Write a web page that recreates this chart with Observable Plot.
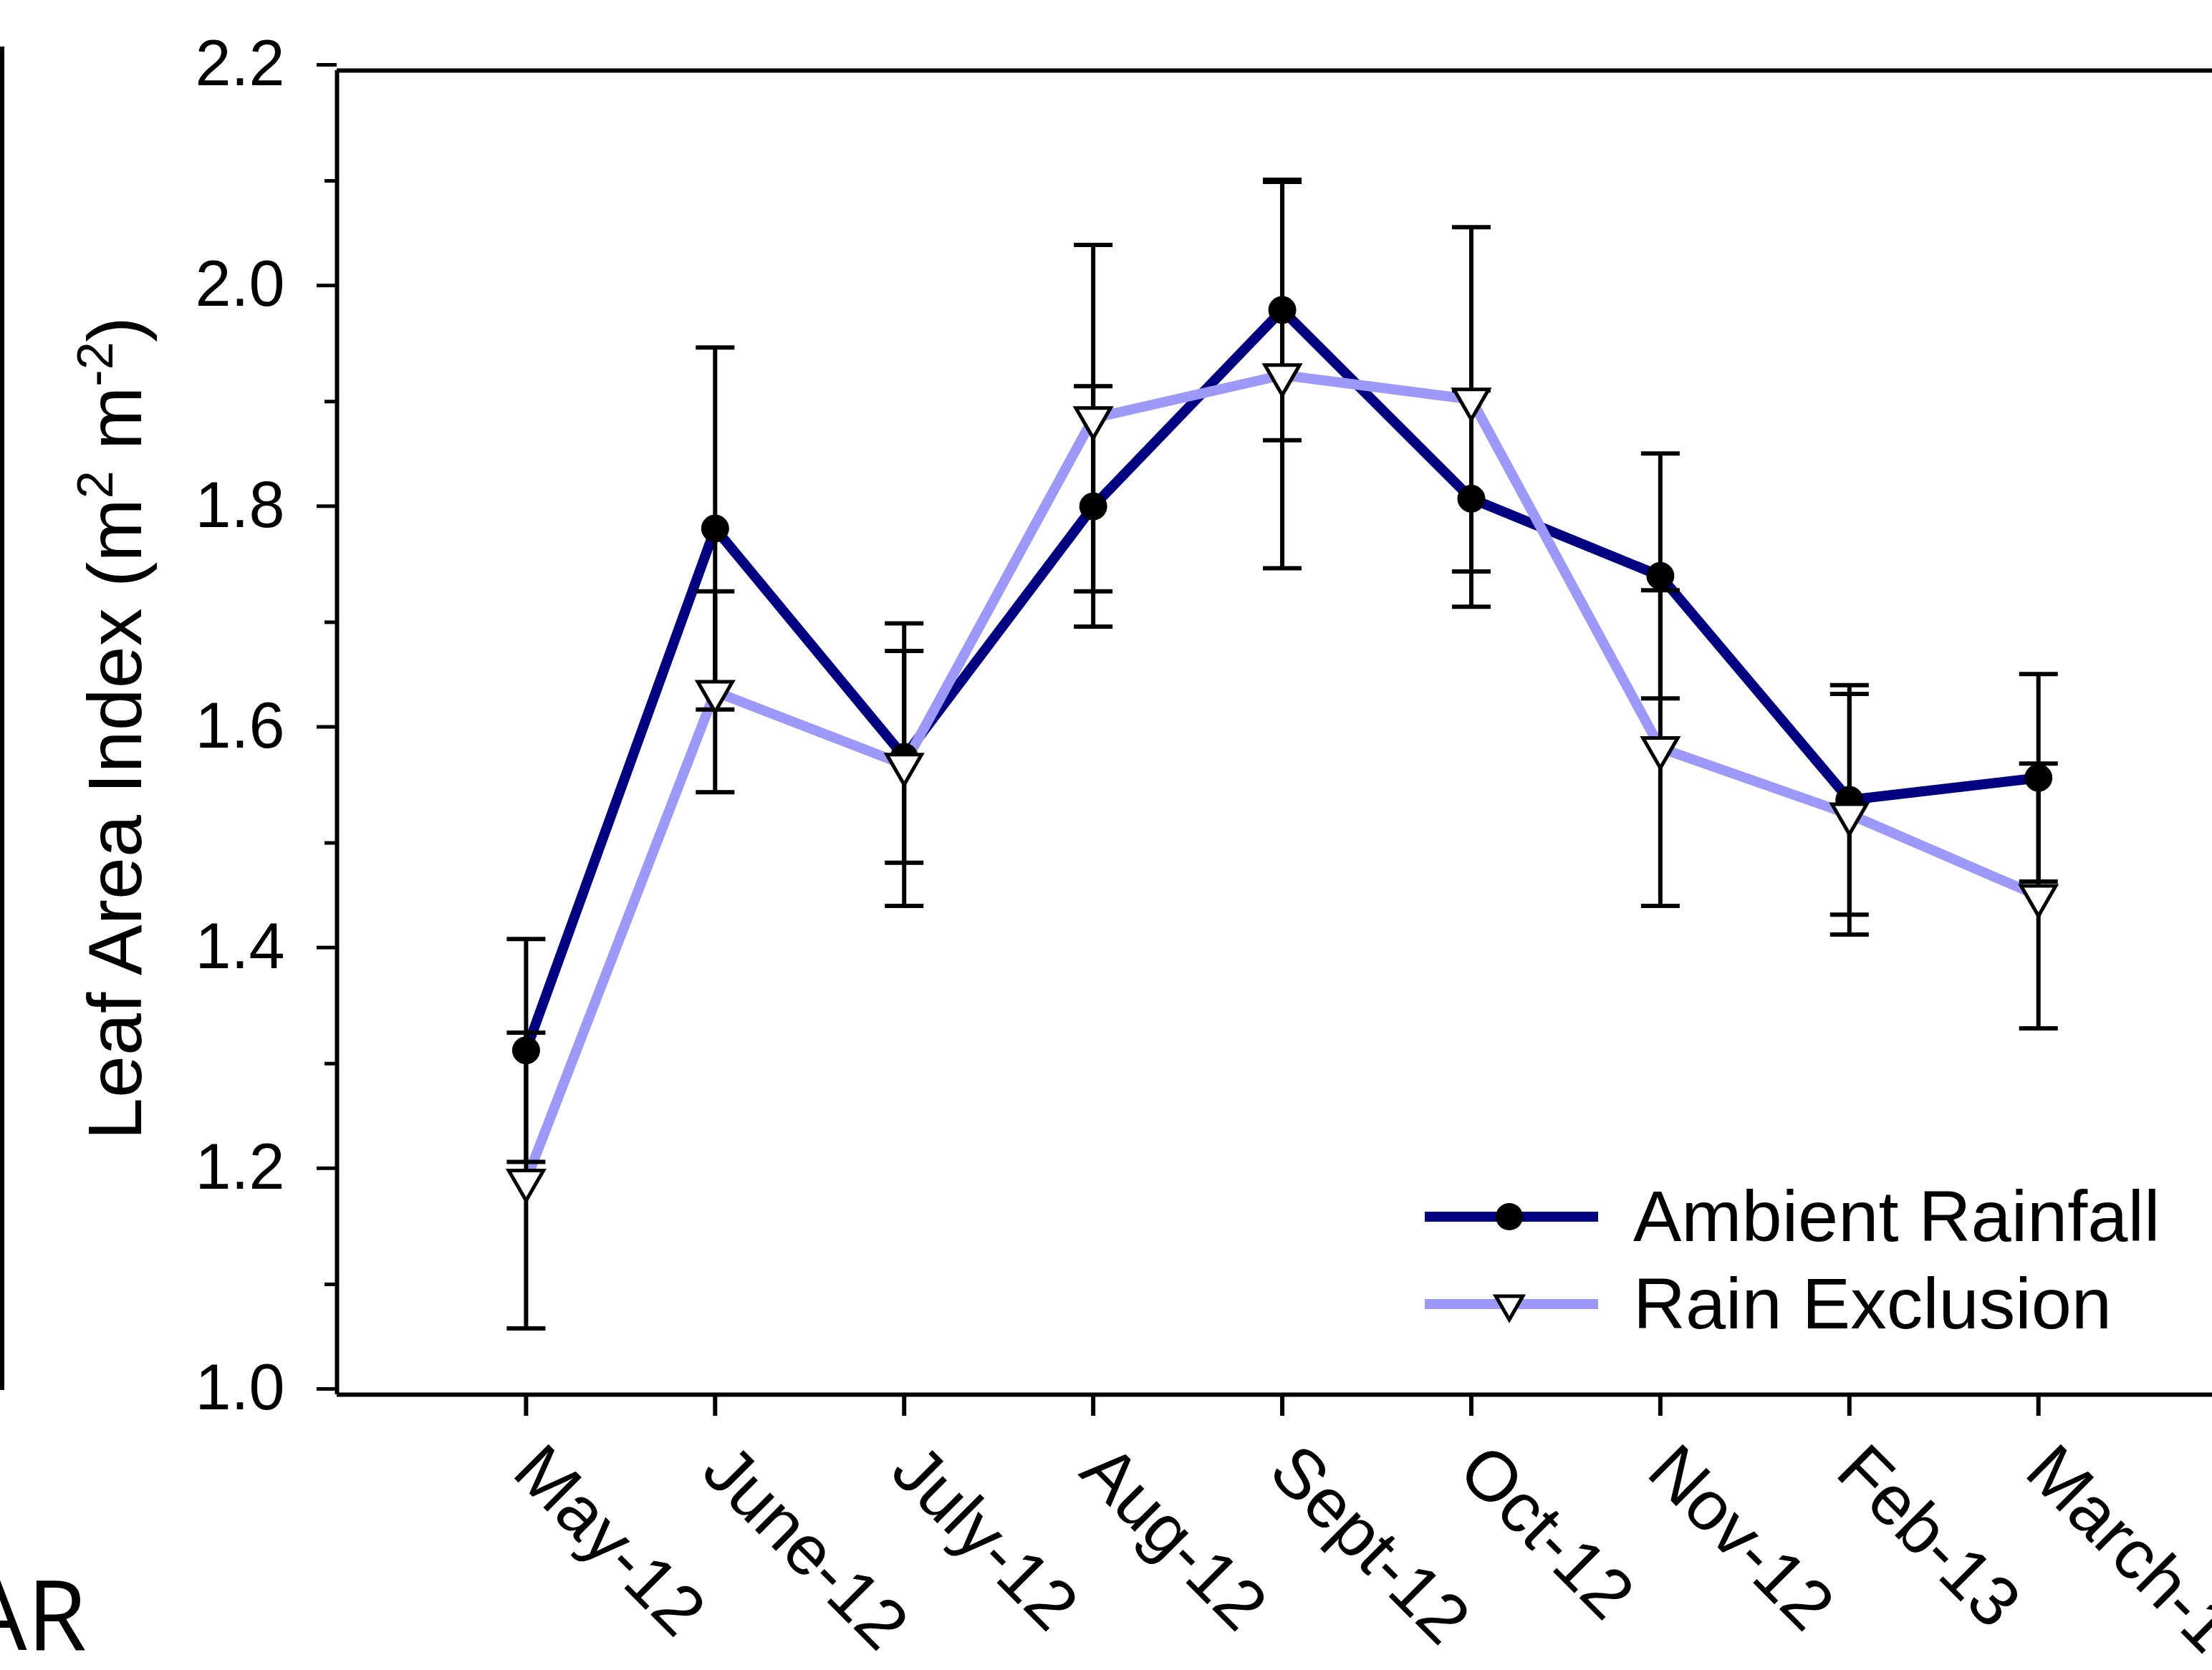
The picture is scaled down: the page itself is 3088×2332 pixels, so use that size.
<!DOCTYPE html>
<html><head><meta charset="utf-8">
<script src="https://cdn.jsdelivr.net/npm/d3@7"></script>
<script src="https://cdn.jsdelivr.net/npm/@observablehq/plot@0.6"></script>
<style>
html,body{margin:0;padding:0;background:#fff;overflow:hidden;}
#wrap{position:relative;width:3088px;height:2332px;overflow:hidden;background:#fff;}
#wrap > svg{position:absolute;left:0;top:0;}
</style></head><body><div id="wrap"></div>
<script>
// ---- data ----
const months = ["May-12","June-12","July-12","Aug-12","Sept-12","Oct-12","Nov-12","Feb-13","March-13"];
const ambientMean   = [1.312,1.785,1.578,1.805,1.983,1.812,1.742,1.539,1.559];
const ambientSE     = [0.101,0.164,0.096,0.109,0.118,0.098,0.111,0.104,0.094];
const exclusionMean = [1.194,1.637,1.571,1.885,1.924,1.902,1.586,1.526,1.452];
const exclusionSE   = [0.134,0.091,0.128,0.157,0.175,0.156,0.143,0.109,0.120];
const yMajorTicks = [1.0,1.2,1.4,1.6,1.8,2.0,2.2];
const yMinorTicks = [1.1,1.3,1.5,1.7,1.9,2.1];
const seriesNames = ["Ambient Rainfall","Rain Exclusion"];
const seriesColors = ["#000080","#9c99f8"];
const yTitle = ["Leaf Area Index (m","2"," m","-2",")"];
const fragmentText = "AR";

// ---- build table ----
const rows = [];
months.forEach((m,i)=>{
  rows.push({i, month:m, series:seriesNames[0], mean:ambientMean[i], se:ambientSE[i]});
  rows.push({i, month:m, series:seriesNames[1], mean:exclusionMean[i], se:exclusionSE[i]});
});
const amb = rows.filter(d=>d.series===seriesNames[0]);
const exc = rows.filter(d=>d.series===seriesNames[1]);

const capSymbol = {draw(ctx, size){ const w = Math.sqrt(size/Math.PI); ctx.moveTo(-w,0); ctx.lineTo(w,0); }};
const FONT = "'Liberation Sans', Arial, sans-serif";

const W = 3088, H = 2332;
const chart = Plot.plot({
  width: W, height: H,
  marginLeft: 470, marginRight: 0, marginTop: 98, marginBottom: 385,
  x: {type: "linear", domain: [-1, 8.92]},
  y: {domain: [1.0, 2.2]},
  style: {fontFamily: FONT, background: "white", color: "black", overflow: "visible"},
  marks: [
    Plot.axisY(yMinorTicks, {tickSize: 17, strokeWidth: 5, tickFormat: () => "", label: null}),
    Plot.axisY(yMajorTicks, {tickSize: 28, strokeWidth: 5, tickPadding: 45, fontSize: 90, dy: -8, tickFormat: d => d.toFixed(1), label: null}),
    Plot.axisX(d3.range(months.length), {tickSize: 30, strokeWidth: 6, tickRotate: 45, fontSize: 98, tickPadding: 59, tickFormat: i => months[i], label: null}),
    Plot.ruleY([yMajorTicks[0], yMajorTicks[yMajorTicks.length-1]], {strokeWidth: 6}),
    Plot.ruleX([-1], {strokeWidth: 6}),
    Plot.line(amb, {x: "i", y: "mean", stroke: seriesColors[0], strokeWidth: 14, strokeLinejoin: "miter"}),
    Plot.line(exc, {x: "i", y: "mean", stroke: seriesColors[1], strokeWidth: 14, strokeLinejoin: "miter"}),
    Plot.ruleX(rows, {x: "i", y1: d => d.mean - d.se, y2: d => d.mean + d.se, stroke: "black", strokeWidth: 6}),
    Plot.dot(rows, {x: "i", y: d => d.mean + d.se, symbol: capSymbol, r: 27, stroke: "black", strokeWidth: 6}),
    Plot.dot(rows, {x: "i", y: d => d.mean - d.se, symbol: capSymbol, r: 27, stroke: "black", strokeWidth: 6}),
    Plot.dot(amb, {x: "i", y: "mean", r: 19, fill: "black", stroke: "black", strokeWidth: 1}),
    Plot.dot(exc, {x: "i", y: "mean", symbol: "triangle", rotate: 180, r: 18, fill: "white", stroke: "black", strokeWidth: 5})
  ]
});
document.getElementById("wrap").appendChild(chart);

// ---- overlay: y title, legend, fragments of the neighbouring panel ----
const svg = d3.select("#wrap").append("svg").attr("width", W).attr("height", H)
  .style("font-family", FONT).style("pointer-events","none");

const t = svg.append("text").attr("transform","translate(197,1017) rotate(-90)")
  .attr("text-anchor","middle").attr("font-size",106).attr("fill","black");
t.append("tspan").text(yTitle[0]);
t.append("tspan").attr("dy",-40).attr("font-size",70).text(yTitle[1]);
t.append("tspan").attr("dy",40).text(yTitle[2]);
t.append("tspan").attr("dy",-40).attr("font-size",70).text(yTitle[3]);
t.append("tspan").attr("dy",40).text(yTitle[4]);

// legend
const legY = [1699, 1821];
seriesNames.forEach((name, k) => {
  const g = svg.append("g");
  g.append("line").attr("x1",1989).attr("x2",2231).attr("y1",legY[k]).attr("y2",legY[k])
    .attr("stroke",seriesColors[k]).attr("stroke-width",14);
  if (k === 0) g.append("circle").attr("cx",2107).attr("cy",legY[k]).attr("r",19).attr("fill","black");
  else g.append("path").attr("d", d3.symbol(d3.symbolTriangle2, Math.PI*18*18)())
    .attr("transform",`translate(2107,${legY[k]}) rotate(180)`).attr("fill","white").attr("stroke","black").attr("stroke-width",5);
  g.append("text").attr("x",2280).attr("y",legY[k]+34).attr("font-size",101).attr("fill","black").text(name);
});

// fragment of neighbouring panel on the left
svg.append("rect").attr("x",-200).attr("y",68).attr("width",203).attr("height",1870)
  .attr("fill","none").attr("stroke","black").attr("stroke-width",6);
svg.append("text").attr("x",121).attr("y",2304).attr("text-anchor","end")
  .attr("font-family","'Open Sans', sans-serif").attr("font-size",135).attr("fill","black").text(fragmentText);
</script></body></html>
